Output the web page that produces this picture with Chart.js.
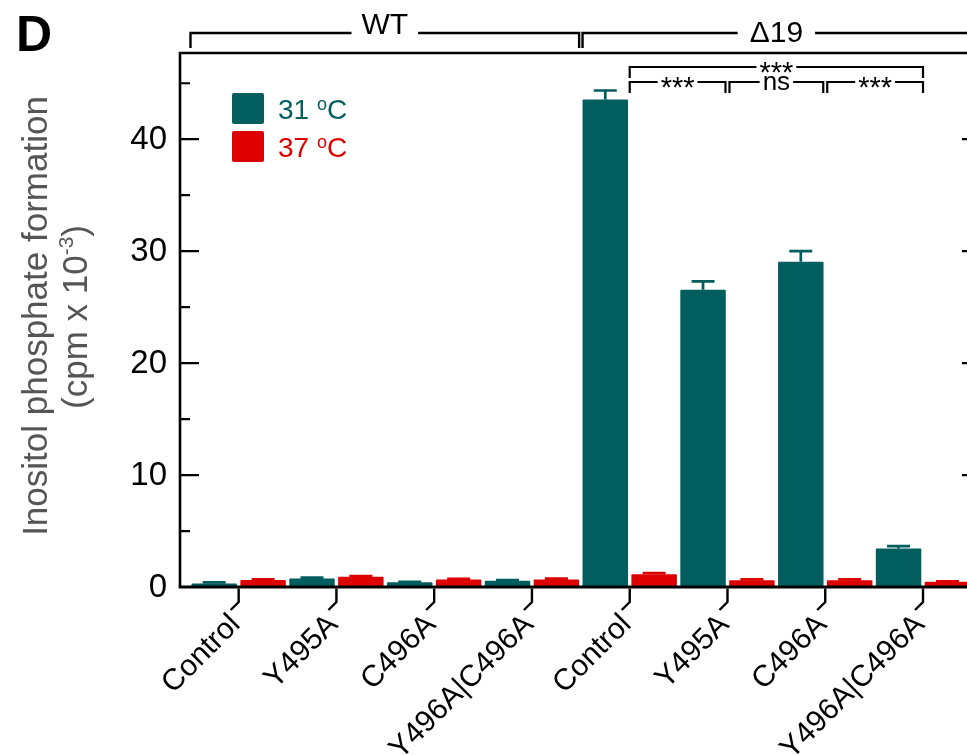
<!DOCTYPE html>
<html>
<head>
<meta charset="utf-8">
<script src="https://cdn.jsdelivr.net/npm/chart.js@4/dist/chart.umd.min.js"></script>
<style>
  html, body { margin: 0; padding: 0; background: #fff; overflow: hidden; }
  #wrap { position: relative; width: 967px; height: 755px; }
</style>
</head>
<body>
<div id="wrap"><canvas id="c" width="967" height="755"></canvas></div>
<script>
// ---- data ----
const groups = ['WT', 'Δ19'];
const mutants = ['Control', 'Y495A', 'C496A', 'Y496A|C496A'];
const categories = [...mutants, ...mutants];

const values31 = [0.32, 0.77, 0.42, 0.56, 43.55, 26.55, 29.05, 3.45];
const errors31 = [0.10, 0.06, 0.05, 0.05, 0.80, 0.75, 0.95, 0.20];
const values37 = [0.62, 0.92, 0.68, 0.68, 1.13, 0.60, 0.60, 0.47];
const errors37 = [0.07, 0.05, 0.04, 0.06, 0.12, 0.08, 0.08, 0.03];

const yMajorTicks = [0, 10, 20, 30, 40];
const yMinorTicks = [5, 15, 25, 35, 45];

// significance brackets between Δ19 categories (indices into categories)
const compFrom   = [4, 4, 5, 6];
const compTo     = [7, 5, 6, 7];
const compLabel  = ['***', '***', 'ns', '***'];
const compLevel  = [0, 1, 1, 1];

// ---- style ----
const FONT = '"Liberation Sans", Arial, Helvetica, sans-serif';
const TEAL = '#025d5f';
const RED = '#dc0000';
const TITLE_GREY = '#555555';

function richWidth(ctx, parts) {
  let w = 0;
  parts.forEach(p => { ctx.font = p.size + 'px ' + FONT; w += ctx.measureText(p.t).width; });
  return w;
}
function drawRich(ctx, parts, x, y, align, color) {
  const w = richWidth(ctx, parts);
  let cx = align === 'center' ? x - w / 2 : (align === 'right' ? x - w : x);
  ctx.fillStyle = color;
  ctx.textAlign = 'left';
  ctx.textBaseline = 'alphabetic';
  parts.forEach(p => {
    ctx.font = p.size + 'px ' + FONT;
    ctx.fillText(p.t, cx, y - (p.rise || 0));
    cx += ctx.measureText(p.t).width;
  });
}
// text whose glyph box is centred vertically on y
function centredText(ctx, txt, x, y, font) {
  ctx.font = font;
  const m = ctx.measureText(txt);
  const base = y + (m.actualBoundingBoxAscent - m.actualBoundingBoxDescent) / 2;
  ctx.textAlign = 'center';
  ctx.textBaseline = 'alphabetic';
  ctx.fillText(txt, x, base);
}
// horizontal bracket with a label breaking the line
function bracket(ctx, x1, x2, yLine, yDrop, label, font, gap, dy) {
  ctx.font = font;
  const w = ctx.measureText(label).width;
  const mid = (x1 + x2) / 2;
  ctx.beginPath();
  ctx.moveTo(x1, yDrop); ctx.lineTo(x1, yLine); ctx.lineTo(mid - w / 2 - gap, yLine);
  ctx.moveTo(mid + w / 2 + gap, yLine); ctx.lineTo(x2, yLine); ctx.lineTo(x2, yDrop);
  ctx.stroke();
  centredText(ctx, label, mid, yLine + (dy || 0), font);
}

const decor = {
  id: 'decor',
  afterDatasetsDraw(chart) {
    const { ctx, chartArea: a, scales: { x, y } } = chart;
    ctx.save();

    // error bars
    chart.data.datasets.forEach((ds, di) => {
      const meta = chart.getDatasetMeta(di);
      ctx.strokeStyle = ds.backgroundColor;
      ctx.lineWidth = 2.7;
      meta.data.forEach((bar, j) => {
        const yTop = y.getPixelForValue(ds.data[j].y + ds.errors[j]);
        ctx.beginPath();
        ctx.moveTo(bar.x, bar.y); ctx.lineTo(bar.x, yTop);
        ctx.moveTo(bar.x - 11.5, yTop); ctx.lineTo(bar.x + 11.5, yTop);
        ctx.stroke();
      });
    });

    const L = a.left, T = a.top, R = chart.width;
    const B = y.getPixelForValue(0);

    // frame: left axis, top line, bottom axis
    ctx.strokeStyle = '#000';
    ctx.lineCap = 'butt';
    ctx.lineWidth = 2.6;
    ctx.beginPath();
    ctx.moveTo(L, T - 1.3); ctx.lineTo(L, B);
    ctx.moveTo(L - 1.3, T); ctx.lineTo(R, T);
    ctx.stroke();
    ctx.lineWidth = 3.2;
    ctx.beginPath();
    ctx.moveTo(L - 1.3, B); ctx.lineTo(R, B);
    ctx.stroke();

    // y ticks (inward) on the left, majors on the right edge
    ctx.lineWidth = 2.2;
    ctx.beginPath();
    yMajorTicks.forEach(v => {
      if (v === 0) return;
      const py = y.getPixelForValue(v);
      ctx.moveTo(L, py); ctx.lineTo(L + 19, py);
      ctx.moveTo(R - 5, py); ctx.lineTo(R, py);
    });
    yMinorTicks.forEach(v => {
      const py = y.getPixelForValue(v);
      ctx.moveTo(L, py); ctx.lineTo(L + 10, py);
    });
    ctx.stroke();

    // y tick labels
    ctx.fillStyle = '#000';
    ctx.font = '33px ' + FONT;
    ctx.textAlign = 'right';
    ctx.textBaseline = 'middle';
    yMajorTicks.forEach(v => ctx.fillText(String(v), 167, y.getPixelForValue(v) + 1));

    // x ticks with leaders and rotated labels
    ctx.lineWidth = 2.4;
    categories.forEach((name, i) => {
      const px = x.getPixelForValue(i);
      ctx.beginPath();
      ctx.moveTo(px, B + 1.5); ctx.lineTo(px, B + 15); ctx.lineTo(px - 8, B + 23);
      ctx.stroke();
      ctx.save();
      ctx.translate(px - 3, B + 33);
      ctx.rotate(-Math.PI / 4);
      ctx.font = '30px ' + FONT;
      ctx.textAlign = 'right';
      ctx.textBaseline = 'middle';
      ctx.fillStyle = '#000';
      ctx.fillText(name, 0, 0);
      ctx.restore();
    });

    // y axis title
    ctx.save();
    ctx.translate(37, 316);
    ctx.rotate(-Math.PI / 2);
    ctx.fillStyle = TITLE_GREY;
    ctx.font = '35px ' + FONT;
    ctx.textAlign = 'center';
    ctx.textBaseline = 'middle';
    ctx.fillText('Inositol phosphate formation', 0, 0);
    ctx.restore();
    ctx.save();
    ctx.translate(75, 317);
    ctx.rotate(-Math.PI / 2);
    drawRich(ctx, [
      { t: '(cpm x 10', size: 35 },
      { t: '-3', size: 21, rise: 14 },
      { t: ')', size: 35 }
    ], 0, 12, 'center', TITLE_GREY);
    ctx.restore();

    // group brackets above the plot
    const m0 = chart.getDatasetMeta(0).data, m1 = chart.getDatasetMeta(1).data;
    const leftEdge = i => m0[i].x - m0[i].width / 2;
    const rightEdge = i => m1[i].x + m1[i].width / 2;
    ctx.strokeStyle = '#000';
    ctx.fillStyle = '#000';
    ctx.lineWidth = 2.4;
    bracket(ctx, leftEdge(0) - 1, rightEdge(3), 33, 48, groups[0], '30px ' + FONT, 10, -1);
    bracket(ctx, leftEdge(4), rightEdge(7), 33, 48, groups[1], '30px ' + FONT, 12, -1);

    // significance brackets
    ctx.lineWidth = 2.2;
    compFrom.forEach((f, k) => {
      const lvl = compLevel[k];
      const yLine = lvl === 0 ? 67 : 82;
      const yDrop = lvl === 0 ? 78 : 93;
      let x1 = x.getPixelForValue(f), x2 = x.getPixelForValue(compTo[k]);
      if (lvl === 1) {
        if (compFrom.some((g, n) => compLevel[n] === 1 && compTo[n] === f)) x1 += 2;
        if (compFrom.some((g, n) => compLevel[n] === 1 && g === compTo[k])) x2 -= 2;
      }
      const font = compLabel[k] === 'ns' ? '26px ' + FONT : '29px ' + FONT;
      bracket(ctx, x1, x2, yLine, yDrop, compLabel[k], font, 3, compLabel[k] === 'ns' ? 1 : 0);
    });

    // legend
    const legendItems = [
      { color: TEAL, temp: '31', top: 93 },
      { color: RED, temp: '37', top: 131 }
    ];
    legendItems.forEach(it => {
      ctx.fillStyle = it.color;
      ctx.beginPath();
      ctx.roundRect(232, it.top, 32, 31, 2);
      ctx.fill();
      drawRich(ctx, [
        { t: it.temp + ' ', size: 28 },
        { t: 'o', size: 18, rise: 9 },
        { t: 'C', size: 28 }
      ], 278, it.top + 26, 'left', it.color);
    });

    // panel letter
    ctx.fillStyle = '#000';
    ctx.font = 'bold 50px ' + FONT;
    ctx.textAlign = 'left';
    ctx.textBaseline = 'alphabetic';
    ctx.fillText('D', 16, 51);

    ctx.restore();
  }
};

new Chart(document.getElementById('c'), {
  type: 'bar',
  data: {
    datasets: [
      {
        label: '31 °C',
        data: values31.map((v, i) => ({ x: i, y: v })),
        errors: errors31,
        backgroundColor: TEAL
      },
      {
        label: '37 °C',
        data: values37.map((v, i) => ({ x: i, y: v })),
        errors: errors37,
        backgroundColor: RED
      }
    ]
  },
  options: {
    responsive: false,
    animation: false,
    devicePixelRatio: 1,
    layout: { padding: { left: 180, top: 53, right: 0, bottom: 168 } },
    datasets: { bar: { categoryPercentage: 1, barPercentage: 0.93, borderRadius: 1 } },
    plugins: { legend: { display: false }, tooltip: { enabled: false } },
    scales: {
      x: {
        type: 'linear',
        min: -0.6,
        max: 7.45,
        offset: false,
        display: false,
        afterBuildTicks: s => { s.ticks = categories.map((_, i) => ({ value: i })); }
      },
      y: { type: 'linear', min: 0, max: 47.7, display: false }
    }
  },
  plugins: [decor]
});
</script>
</body>
</html>
